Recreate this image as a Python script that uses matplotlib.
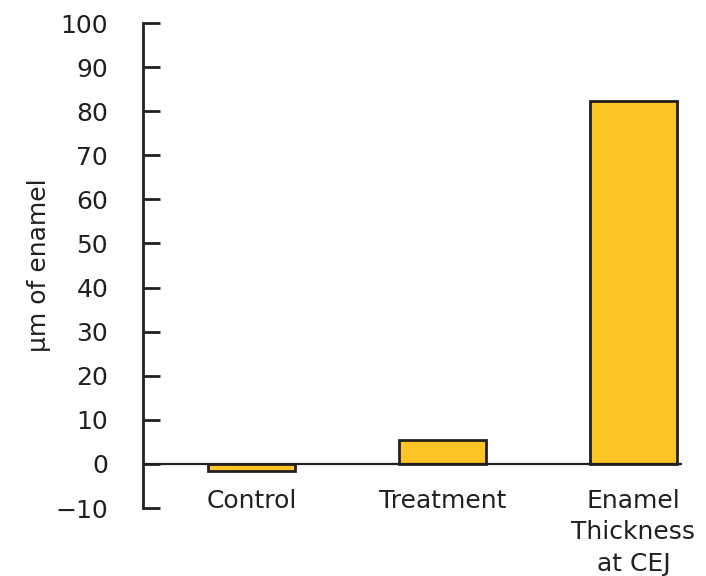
import matplotlib
matplotlib.use('Agg')
import matplotlib.pyplot as plt

# ===== DATA =====
categories = ['Control', 'Treatment', 'Enamel\nThickness\nat CEJ']
values = [-1.6, 5.4, 82.3]
yticks = list(range(-10, 101, 10))

INK = '#231f20'
GOLD = '#fdc425'

fig = plt.figure(figsize=(7.06, 5.76), dpi=100)
ax = fig.add_axes([0.2025, 0.118, 0.7635, 0.842])

x = list(range(len(categories)))
ax.bar(x, values, width=0.455, color=GOLD, edgecolor=INK, linewidth=2.0, zorder=2)
ax.axhline(0, color=INK, lw=1.6, zorder=3)

ax.set_xlim(-0.568, 2.254)
ax.set_ylim(-10, 100)
ax.set_yticks(yticks)
ax.set_yticklabels([str(t).replace('-', '\u2212') for t in yticks])
ax.tick_params(axis='y', direction='in', length=12, width=2.0, color=INK,
               labelsize=18, labelcolor=INK, pad=25)
ax.set_xticks([])

for s in ['top', 'right', 'bottom']:
    ax.spines[s].set_visible(False)
ax.spines['left'].set_linewidth(2.0)
ax.spines['left'].set_color(INK)

# category labels sit just under the zero line
for xi, lab in zip(x, categories):
    ax.text(xi, -5.6, lab, ha='center', va='top', fontsize=18, color=INK,
            linespacing=1.4)

ax.set_ylabel('\u03bcm of enamel', fontsize=18, color=INK, labelpad=3)

fig.savefig('out.png', dpi=100)
